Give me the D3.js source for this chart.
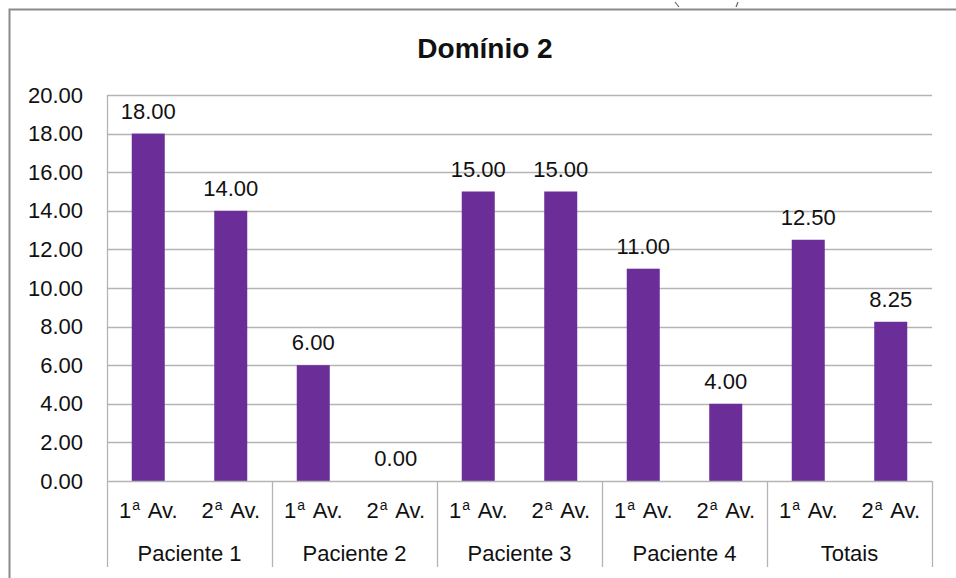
<!DOCTYPE html>
<html>
<head>
<meta charset="utf-8">
<script src="https://cdn.jsdelivr.net/npm/d3@7"></script>
<style>
  html, body { margin: 0; padding: 0; background: #fff; }
  svg { display: block; font-family: "Liberation Sans", Arial, Helvetica, sans-serif; }
</style>
</head>
<body>
<svg id="chart" width="956" height="578"></svg>
<script>
// Data
const groups = ["Paciente 1", "Paciente 2", "Paciente 3", "Paciente 4", "Totais"];
const evaluations = ["1ª Av.", "2ª Av."];
const values = [18.00, 14.00, 6.00, 0.00, 15.00, 15.00, 11.00, 4.00, 12.50, 8.25];
const yTicks = [0, 2, 4, 6, 8, 10, 12, 14, 16, 18, 20];
const title = "Domínio 2";

const svg = d3.select("#chart");
const W = 956, H = 578;
const plot = { left: 107, right: 932, top: 95, bottom: 481 };
const axisBottom = 567;
const barColor = "#6b2d98";
const gridColor = "#b4b4b4";
const fs = 22;

// Outer frame (top and left edges visible)
svg.append("path")
  .attr("d", `M9.5,${H} L9.5,9.5 L${W},9.5`)
  .attr("fill", "none").attr("stroke", "#8a8a8a").attr("stroke-width", 2);
svg.append("path").attr("d", "M675,2 L679,7").attr("stroke", "#666").attr("stroke-width", 1.2);
svg.append("path").attr("d", "M738,2 L736,7").attr("stroke", "#666").attr("stroke-width", 1.2);

// Scales
const items = [];
groups.forEach((g, gi) => evaluations.forEach((e, ei) => items.push({ g, e, key: g + "|" + e, v: values[gi * 2 + ei] })));

const xGroup = d3.scaleBand().domain(groups).range([plot.left, plot.right]);
const x = d3.scaleBand().domain(items.map(d => d.key)).range([plot.left, plot.right]).paddingInner(0.6).paddingOuter(0.3);
const y = d3.scaleLinear().domain([0, 20]).range([plot.bottom, plot.top]);

// Gridlines
svg.append("g").selectAll("line").data(yTicks.filter(t => t > 0)).join("line")
  .attr("x1", plot.left).attr("x2", plot.right)
  .attr("y1", d => Math.round(y(d)) + 0.5).attr("y2", d => Math.round(y(d)) + 0.5)
  .attr("stroke", gridColor).attr("stroke-width", 1.3);

// Y axis labels
const yAxis = d3.axisLeft(y).tickValues(yTicks).tickFormat(d3.format(".2f")).tickSize(0).tickPadding(24);
const yg = svg.append("g").attr("transform", `translate(${plot.left},0)`).call(yAxis);
yg.select(".domain").remove();
yg.selectAll("text").attr("font-size", fs).attr("fill", "#111").attr("font-family", "Liberation Sans, Arial, sans-serif");

// Bars
svg.append("g").selectAll("rect").data(items).join("rect")
  .attr("x", d => x(d.key)).attr("width", x.bandwidth())
  .attr("y", d => y(d.v)).attr("height", d => y(0) - y(d.v))
  .attr("fill", barColor);

// Value labels
svg.append("g").selectAll("text").data(items).join("text")
  .attr("x", d => x(d.key) + x.bandwidth() / 2)
  .attr("y", d => y(d.v) - 15)
  .attr("text-anchor", "middle").attr("font-size", fs).attr("fill", "#111")
  .text(d => d3.format(".2f")(d.v));

// Plot frame lines: left axis and baseline, group separators
svg.append("line").attr("x1", plot.left + 0.5).attr("x2", plot.left + 0.5)
  .attr("y1", plot.top).attr("y2", axisBottom).attr("stroke", gridColor).attr("stroke-width", 1.3);
svg.append("line").attr("x1", plot.left).attr("x2", plot.right)
  .attr("y1", Math.round(y(0)) + 0.5).attr("y2", Math.round(y(0)) + 0.5)
  .attr("stroke", gridColor).attr("stroke-width", 1.3);
svg.append("g").selectAll("line").data(groups.slice(1).map(g => xGroup(g)).concat([plot.right])).join("line")
  .attr("x1", d => Math.round(d) + 0.5).attr("x2", d => Math.round(d) + 0.5)
  .attr("y1", y(0)).attr("y2", axisBottom)
  .attr("stroke", gridColor).attr("stroke-width", 1.3);

// Category labels (ordinal "ª" set as a raised small "a")
svg.append("g").selectAll("text").data(items).join("text")
  .attr("x", d => x(d.key) + x.bandwidth() / 2)
  .attr("y", 518)
  .attr("text-anchor", "middle").attr("font-size", fs).attr("fill", "#111")
  .each(function(d) {
    const t = d3.select(this);
    const parts = d.e.match(/^(\d)(ª)(.*)$/);
    t.append("tspan").text(parts[1]);
    t.append("tspan").attr("font-size", 14).attr("dy", -8).attr("dx", 1).text("a");
    t.append("tspan").attr("dy", 8).attr("dx", 3).text(parts[3]);
  });

svg.append("g").selectAll("text").data(groups).join("text")
  .attr("x", d => xGroup(d) + xGroup.bandwidth() / 2)
  .attr("y", 561)
  .attr("text-anchor", "middle").attr("font-size", fs).attr("fill", "#111")
  .text(d => d);

// Title
svg.append("text").attr("x", 485).attr("y", 58)
  .attr("text-anchor", "middle").attr("font-size", 28).attr("font-weight", "bold").attr("fill", "#111")
  .text(title);
</script>
</body>
</html>
